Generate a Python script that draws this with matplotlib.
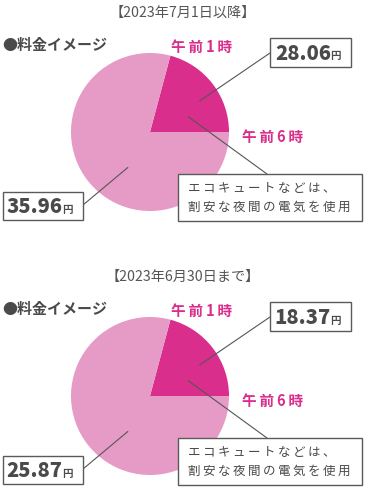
import numpy as np
import matplotlib
matplotlib.use("Agg")
import matplotlib.pyplot as plt
from matplotlib.patches import Rectangle, ConnectionPatch

# ---- data ----
titles = ['【2023年7月1日以降】', '【2023年6月30日まで】']
night_cost = ['28.06', '18.37']   # 午前1時〜午前6時
day_cost = ['35.96', '25.87']
hours = [5, 19]                    # night hours, other hours
hour_labels = ['午前1時', '午前6時']
section_label = '●料金イメージ'
note_lines = ['エコキュートなどは、', '割安な夜間の電気を使用']
yen = '円'

DARK = '#D92E8C'
LIGHT = '#E59BC5'
GRAY = '#4a4a4a'
EDGE = '#5a5a5a'
FAM = ['Noto Sans CJK JP', 'DejaVu Sans']
TS = '\u2009'

W, H = 370, 490
fig = plt.figure(figsize=(W / 100, H / 100), dpi=100)
fig.patch.set_facecolor('white')

ov = fig.add_axes([0, 0, 1, 1], zorder=5)
ov.set_xlim(0, W)
ov.set_ylim(H, 0)
ov.axis('off')
ov.patch.set_alpha(0)


def spaced(s):
    return TS.join(list(s))


cx, cy0, r = 150, 132, 79
for i in range(2):
    off = 264 * i
    cy = cy0 + off
    ax = fig.add_axes([(cx - r) / W, (H - cy - r) / H, 2 * r / W, 2 * r / H], zorder=1)
    ax.pie(hours, colors=[DARK, LIGHT], startangle=0, counterclock=True,
           radius=1.0, wedgeprops=dict(linewidth=0))
    ax.set_xlim(-1, 1)
    ax.set_ylim(-1, 1)
    ax.axis('off')

    # title
    ov.text(183, 13 + off, titles[i], ha='center', va='center', fontsize=10.2,
            color='#555555', family=FAM)
    # section label
    ov.text(2, 45 + off, section_label, ha='left', va='center', fontsize=10.8,
            color=GRAY, family=FAM, fontweight='bold')
    # hour labels
    ov.text(202, 47 + off, spaced(hour_labels[0]), ha='center', va='center',
            fontsize=10.5, color=DARK, family=FAM, fontweight='bold')
    ov.text(273, 137 + off, spaced(hour_labels[1]), ha='center', va='center',
            fontsize=10.5, color=DARK, family=FAM, fontweight='bold')

    # night cost box
    ov.add_patch(Rectangle((270, 38 + off), 81, 29, facecolor='white',
                           edgecolor=EDGE, linewidth=1.0))
    ov.text(331, 59.5 + off, night_cost[i], ha='right', va='baseline',
            fontsize=14.5, color=GRAY, family=FAM, fontweight='heavy')
    ov.text(330.5, 59.5 + off, yen, ha='left', va='baseline',
            fontsize=7.5, color=GRAY, family=FAM, fontweight='bold')

    # day cost box
    ov.add_patch(Rectangle((3, 192 + off), 80, 28, facecolor='white',
                           edgecolor=EDGE, linewidth=1.0))
    ov.text(62.5, 213 + off, day_cost[i], ha='right', va='baseline',
            fontsize=14.5, color=GRAY, family=FAM, fontweight='heavy')
    ov.text(62, 213 + off, yen, ha='left', va='baseline',
            fontsize=7.5, color=GRAY, family=FAM, fontweight='bold')

    # note box
    ov.add_patch(Rectangle((178, 174 + off), 184, 47, facecolor='white',
                           edgecolor=EDGE, linewidth=1.0))
    ov.text(188, 188.5 + off, spaced(note_lines[0]), ha='left', va='center',
            fontsize=9.0, color=GRAY, family=FAM)
    ov.text(188, 207 + off, spaced(note_lines[1]), ha='left', va='center',
            fontsize=9.0, color=GRAY, family=FAM)

    # leader lines (start inside wedges, polar in pie coords)
    def polar(rr, deg):
        t = np.deg2rad(deg)
        return (rr * np.cos(t), rr * np.sin(t))

    for start, end in [(polar(0.74, 32), (270, 53 + off)),
                       (polar(0.52, 22), (267, 174 + off)),
                       (polar(0.53, 238), (83, 205 + off))]:
        cp = ConnectionPatch(xyA=start, coordsA=ax.transData,
                             xyB=end, coordsB=ov.transData,
                             color='#555555', linewidth=0.8, zorder=4)
        fig.add_artist(cp)

fig.savefig('out.png', dpi=100, facecolor='white')
